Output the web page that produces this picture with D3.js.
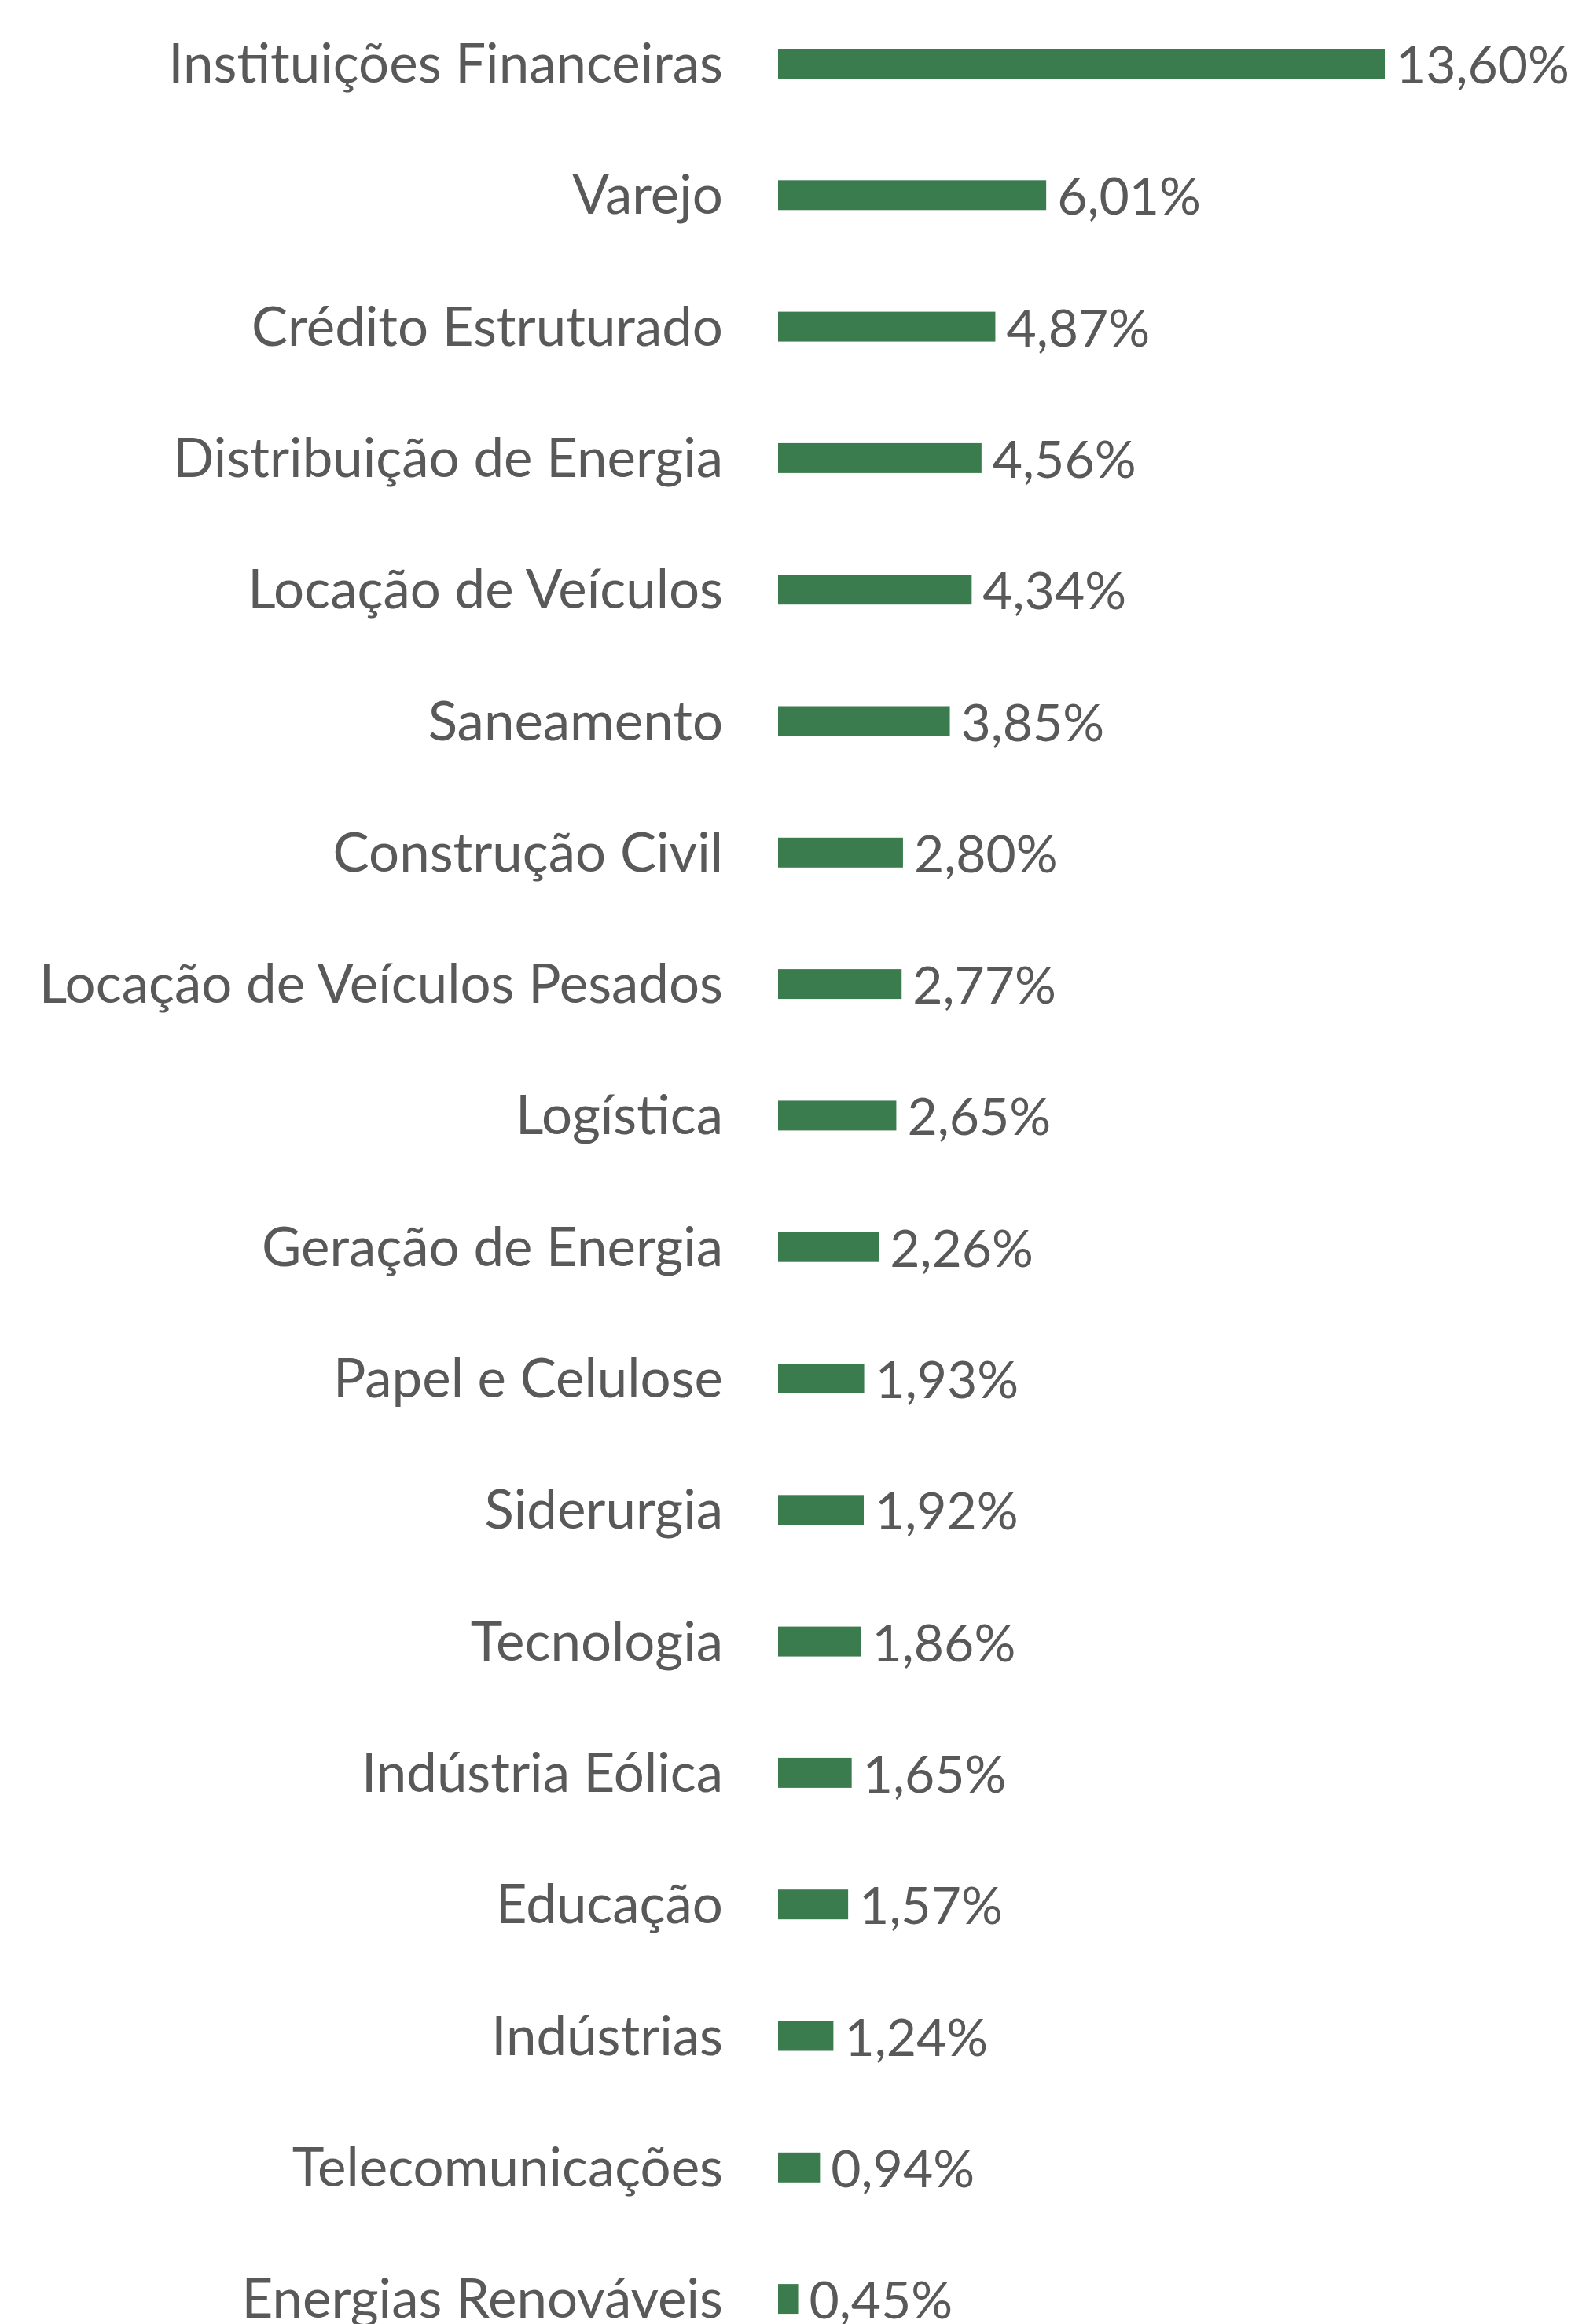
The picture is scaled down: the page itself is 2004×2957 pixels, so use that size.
<!DOCTYPE html>
<html>
<head>
<meta charset="utf-8">
<script src="https://cdn.jsdelivr.net/npm/d3@7"></script>
<style>
html,body{margin:0;padding:0;background:#fff;}
svg{display:block;}
</style>
</head>
<body>
<script>
const categories = [
  "Instituições Financeiras","Varejo","Crédito Estruturado","Distribuição de Energia",
  "Locação de Veículos","Saneamento","Construção Civil","Locação de Veículos Pesados",
  "Logística","Geração de Energia","Papel e Celulose","Siderurgia","Tecnologia",
  "Indústria Eólica","Educação","Indústrias","Telecomunicações","Energias Renováveis"
];
const values = [13.60,6.01,4.87,4.56,4.34,3.85,2.80,2.77,2.65,2.26,1.93,1.92,1.86,1.65,1.57,1.24,0.94,0.45];
const valueLabels = ["13,60%","6,01%","4,87%","4,56%","4,34%","3,85%","2,80%","2,77%","2,65%","2,26%","1,93%","1,92%","1,86%","1,65%","1,57%","1,24%","0,94%","0,45%"];

const W = 2004, H = 2957;
const svg = d3.select("body").append("svg").attr("width", W).attr("height", H);

const x0 = 990;
const x = d3.scaleLinear().domain([0, 13.6]).range([x0, x0 + 772]);
const step = 167.3;
const y = d3.scaleBand().domain(categories)
  .range([81 - step/2, 81 - step/2 + step*categories.length])
  .paddingInner(0.773).paddingOuter(0.773/2);

const font = "Lato, 'Open Sans', sans-serif";
const data = categories.map((c,i)=>({c, v:values[i], l:valueLabels[i]}));

svg.selectAll("rect.bar").data(data).enter().append("rect")
  .attr("class","bar")
  .attr("x", x(0))
  .attr("y", d => y(d.c))
  .attr("width", d => x(d.v) - x(0))
  .attr("height", y.bandwidth())
  .attr("fill", "#3b7c4e");

svg.selectAll("text.cat").data(data).enter().append("text")
  .attr("class","cat")
  .attr("x", 920)
  .attr("y", d => y(d.c) + y.bandwidth()/2 + 24)
  .attr("text-anchor","end")
  .attr("font-family", font)
  .attr("font-size", 69)
  .attr("fill", "#595959")
  .text(d => d.c);

svg.selectAll("text.val").data(data).enter().append("text")
  .attr("class","val")
  .attr("x", d => x(d.v) + 14)
  .attr("y", d => y(d.c) + y.bandwidth()/2 + 25)
  .attr("font-family", font)
  .attr("font-size", 66)
  .attr("fill", "#595959")
  .text(d => d.l);
</script>
</body>
</html>
